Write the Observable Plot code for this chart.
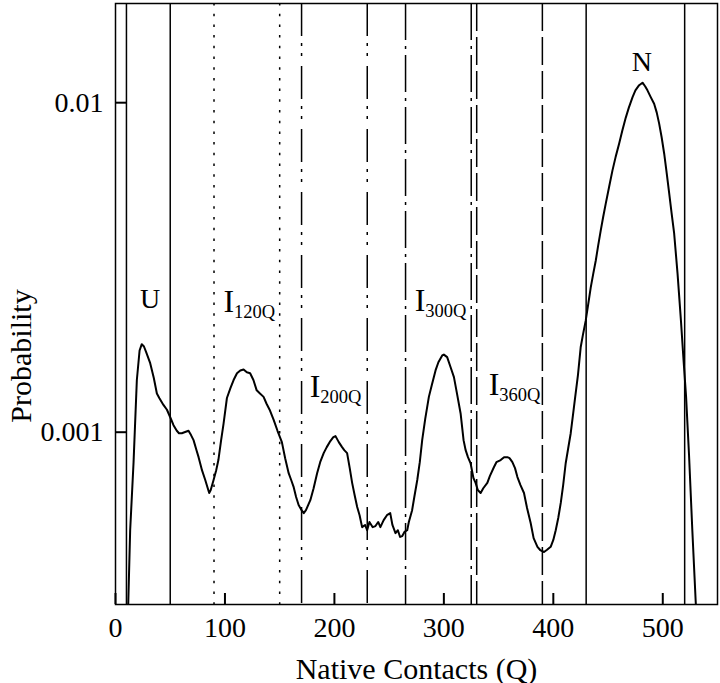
<!DOCTYPE html>
<html><head><meta charset="utf-8">
<script src="https://cdn.jsdelivr.net/npm/d3@7"></script>
<script src="https://cdn.jsdelivr.net/npm/@observablehq/plot@0.6"></script>
<style>
body{margin:0;background:#fff;}
#chart svg{font-family:"Liberation Serif","Times New Roman",serif;color:#000;}
#chart [aria-label="x-axis label"]{font-size:30px;}
</style></head><body><div id="chart"></div>
<script>
const contactsQ = [
  11, 13.4, 16.5, 19.5, 22, 24, 26, 28, 31.7, 35,
  37.8, 40, 43.8, 47, 50, 53, 56, 58, 60.6, 63,
  66.7, 69, 71.3, 74, 75.9, 78, 79, 82, 84, 85.6,
  87, 89.6, 92, 94, 96.5, 98.7, 101.8, 105, 107.9, 111,
  114, 117, 120, 123, 126, 129, 132, 135.3, 138, 140.8,
  144.5, 148, 152, 155, 158.2, 160.5, 162.8, 165, 167.3, 170,
  172, 174, 176, 178, 181, 184.2, 187, 190.2, 193, 196.3,
  199, 201, 204, 207, 209, 211.6, 214, 216.2, 218.5, 220.8,
  223, 225.3, 228, 229.9, 232, 235, 237.5, 240, 242, 245,
  248, 251, 253, 255.8, 258, 260, 262, 264, 266.5, 268,
  271, 273, 275.7, 278, 280.2, 283, 286.3, 289, 292.4, 295,
  298.5, 300, 303, 306, 309.2, 312, 315.3, 318, 319.9, 322,
  324.4, 327, 329, 331, 333.6, 336, 339.7, 342, 345.7, 348,
  351.9, 355, 358, 360, 362.6, 365, 367.2, 370, 373.2, 376,
  379.3, 382, 385.5, 388, 391.5, 394, 397.6, 400, 402.2, 404.5,
  406.8, 409, 411.3, 413.6, 415.9, 418, 420, 422.5, 425, 427,
  429.6, 432, 434.2, 436.5, 438.8, 441, 443.3, 445.5, 447.9, 451,
  454, 457, 460.1, 463, 466.2, 469, 472.4, 475, 478.4, 481.5,
  484, 486, 489, 492.1, 494.5, 496.7, 499, 501.3, 503.5, 505.9,
  508, 510.4, 513.5, 516.6, 519, 521.3, 524, 527, 530, 532
];
const probability = [
  0.00025, 0.000504, 0.000811, 0.00144, 0.00177, 0.00185, 0.00182, 0.00175, 0.00162, 0.00146,
  0.00131, 0.00127, 0.00121, 0.00117, 0.00111, 0.00105, 0.00101, 0.000993, 0.000993, 0.001,
  0.00101, 0.00098, 0.000946, 0.000882, 0.00084, 0.000789, 0.000767, 0.000716, 0.000681, 0.000654,
  0.000668, 0.000716, 0.000767, 0.000823, 0.000946, 0.00106, 0.00127, 0.00136, 0.00144, 0.00151,
  0.00154, 0.00155, 0.00152, 0.00151, 0.00144, 0.00134, 0.00131, 0.00128, 0.00122, 0.00117,
  0.00109, 0.00101, 0.000933, 0.000834, 0.000751, 0.000716, 0.000681, 0.000636, 0.000601, 0.00058,
  0.000568, 0.00058, 0.000601, 0.000622, 0.000676, 0.000751, 0.000811, 0.000864, 0.000901, 0.00094,
  0.000966, 0.000973, 0.000933, 0.000901, 0.000882, 0.000864, 0.000778, 0.000702, 0.000644, 0.000593,
  0.00056, 0.000515, 0.000523, 0.000504, 0.000534, 0.000515, 0.000519, 0.000534, 0.000515, 0.000541,
  0.00056, 0.000568, 0.000523, 0.000494, 0.000504, 0.000481, 0.000484, 0.000498, 0.000504, 0.000534,
  0.00058, 0.000636, 0.000716, 0.000811, 0.000946, 0.0011, 0.00128, 0.00139, 0.00154, 0.00163,
  0.00171, 0.00172, 0.00169, 0.00158, 0.00147, 0.00131, 0.00114, 0.000946, 0.000882, 0.00084,
  0.000805, 0.000726, 0.000702, 0.000668, 0.000654, 0.000676, 0.000702, 0.000736, 0.000783, 0.000811,
  0.000823, 0.00084, 0.00084, 0.000834, 0.000811, 0.000778, 0.000731, 0.000691, 0.000654, 0.000589,
  0.00053, 0.000477, 0.000449, 0.000439, 0.000433, 0.000439, 0.000449, 0.000471, 0.000504, 0.000549,
  0.00061, 0.000691, 0.000805, 0.000894, 0.000993, 0.00113, 0.00128, 0.00149, 0.00181, 0.00197,
  0.00218, 0.00246, 0.00275, 0.00303, 0.00332, 0.00369, 0.00409, 0.00449, 0.00494, 0.00556,
  0.00622, 0.00686, 0.00751, 0.00822, 0.00901, 0.00966, 0.0104, 0.0109, 0.0113, 0.0115,
  0.0112, 0.0109, 0.0104, 0.00993, 0.00933, 0.00864, 0.00784, 0.007, 0.00614, 0.0053,
  0.00464, 0.00401, 0.00303, 0.00218, 0.00165, 0.00128, 0.000851, 0.000504, 0.00031, 0.000234
];
// state boundaries (Q) and their line style
const boundaryQ = [10, 50, 90, 150, 170, 230, 265, 325, 330, 390, 430, 520];
const boundaryStyle = ["solid", "solid", "dotted", "dotted", "dashdotdot", "dashdotdot", "dashdot", "dashdot", "dashed", "dashed", "solid", "solid"];
// state labels
const labelMain = ["U", "I", "I", "I", "I", "N"];
const labelSub = ["", "120Q", "200Q", "300Q", "360Q", ""];
const labelQ = [31.7, 98.6, 177.4, 273.3, 340.9, 480.8];
const labelP = [0.00238, 0.00231, 0.001276, 0.00233, 0.001294, 0.0125];
// axes
const xTicks = [0, 100, 200, 300, 400, 500];
const yTicks = [0.001, 0.01];
const yTickLabels = ["0.001", "0.01"];
const xTitle = "Native Contacts (Q)";
const yTitle = "Probability";

const W = 720, H = 683, mL = 115, mR = 3, mT = 3, mB = 79, tickLen = 11;
const dashes = {solid: null, dotted: "2.5,8.2", dashdotdot: "33,7,3,7,3,10", dashdot: "37,6,3,6", dashed: "28,6"};
const idx = d3.range(contactsQ.length);
const li = d3.range(labelMain.length);

const ruleMarks = Object.keys(dashes).map(style =>
  Plot.ruleX(boundaryQ.filter((q, i) => boundaryStyle[i] === style), {
    stroke: "#000", strokeWidth: 1.5, strokeDasharray: dashes[style]
  })
);

const chart = Plot.plot({
  width: W,
  height: H,
  marginLeft: mL,
  marginRight: mR,
  marginTop: mT,
  marginBottom: mB,
  style: {fontFamily: "Liberation Serif, Times New Roman, serif", background: "#fff", color: "#000"},
  x: {domain: [0, 550]},
  y: {type: "log", domain: [0.0003, 0.02]},
  marks: [
    ...ruleMarks,
    Plot.line(idx, {x: i => contactsQ[i], y: i => probability[i], stroke: "#000", strokeWidth: 2, clip: true}),
    Plot.text(li.filter(i => labelMain[i] !== "I"), {
      x: i => labelQ[i], y: i => labelP[i], text: i => labelMain[i],
      textAnchor: "middle", lineAnchor: "bottom", fontSize: 28, fill: "#000"
    }),
    Plot.text(li.filter(i => labelMain[i] === "I"), {
      x: i => labelQ[i], y: i => labelP[i], text: i => labelMain[i],
      textAnchor: "start", lineAnchor: "bottom", fontSize: 32, fill: "#000"
    }),
    Plot.text(li.filter(i => labelSub[i] !== ""), {
      x: i => labelQ[i], y: i => labelP[i], text: i => labelSub[i],
      textAnchor: "start", lineAnchor: "bottom", fontSize: 18.5, dx: 10.5, dy: 6, fill: "#000"
    }),
    // tick labels + x title
    Plot.axisX({ticks: xTicks, tickFormat: d => String(d), tickSize: 0, tickPadding: 13, fontSize: 28,
      label: xTitle, labelAnchor: "center", labelOffset: 74, labelArrow: "none"}),
    Plot.axisY({ticks: yTicks, tickFormat: d => yTickLabels[yTicks.indexOf(d)], tickSize: 0, tickPadding: 12, fontSize: 28,
      label: null}),
    // y title
    Plot.text([yTitle], {frameAnchor: "left", dx: -106, dy: 52, rotate: -90, textAnchor: "middle",
      lineAnchor: "top", fontSize: 30, fill: "#000", ariaLabel: "y-title"}),
    Plot.frame({stroke: "#000", strokeWidth: 1.5}),
    // inward tick marks (short rules at the frame edges), drawn last
    Plot.ruleX(xTicks, {stroke: "#000", strokeWidth: 2, insetTop: H - mT - mB - tickLen}),
    Plot.ruleY(yTicks, {stroke: "#000", strokeWidth: 2, insetRight: W - mL - mR - tickLen})
  ]
});
const yt = chart.querySelector('[aria-label="y-title"] text');
if (yt) { yt.setAttribute("textLength", "195"); yt.setAttribute("lengthAdjust", "spacingAndGlyphs"); }
document.getElementById("chart").appendChild(chart);
</script></body></html>
